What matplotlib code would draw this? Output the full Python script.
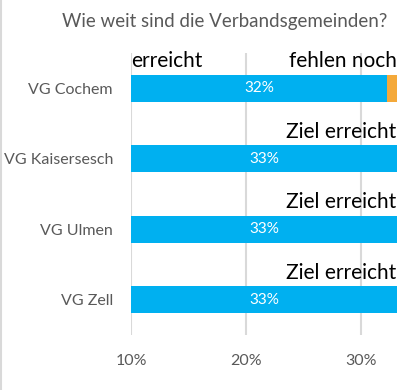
import matplotlib
matplotlib.use("Agg")
import matplotlib.pyplot as plt

# data
regions = ["VG Cochem", "VG Kaisersesch", "VG Ulmen", "VG Zell"]
reached = [32.2, 33.1, 33.1, 33.1]
missing = [0.9, 0.0, 0.0, 0.0]
reached_labels = ["32%", "33%", "33%", "33%"]
status_labels = ["fehlen noch", "Ziel erreicht", "Ziel erreicht", "Ziel erreicht"]
ticks = [10, 20, 30]
tick_labels = ["10%", "20%", "30%"]
x_start = 10
target = 33.1

plt.rcParams["font.family"] = ["Lato", "DejaVu Sans"]
BLUE = "#00B0F0"
ORANGE = "#F4A93A"
GRAY = "#595959"

fig = plt.figure(figsize=(4.09, 3.90), dpi=100)
ax = fig.add_axes([131 / 409, 1 - 335 / 390, (397 - 131) / 409, (335 - 53) / 390])

ypos = list(range(len(regions)))
ax.barh(ypos, [r - x_start for r in reached], left=x_start, height=0.38, color=BLUE, zorder=2)
ax.barh(ypos, missing, left=reached, height=0.38, color=ORANGE, zorder=2)

for y, r, lab in zip(ypos, reached, reached_labels):
    ax.text((x_start + r) / 2, y, lab, color="white", fontsize=11, ha="center", va="center", zorder=3)

for y, lab in zip(ypos, status_labels):
    ax.text(target - 0.05, y - 0.24, lab, color="black", fontsize=15, ha="right", va="bottom", zorder=3)
ax.text(x_start, -0.24, "erreicht", color="black", fontsize=15, ha="left", va="bottom", zorder=3)

ax.set_xlim(x_start, target)
ax.set_ylim(len(regions) - 0.5, -0.5)
ax.set_xticks(ticks)
ax.set_xticklabels(tick_labels)
ax.set_yticks(ypos)
ax.set_yticklabels(regions)
ax.tick_params(axis="both", length=0, colors=GRAY, labelsize=11.5)
ax.tick_params(axis="x", pad=14)
ax.tick_params(axis="y", pad=13)
ax.grid(axis="x", color="#D9D9D9", linewidth=1.5, zorder=0)
for s in ax.spines.values():
    s.set_visible(False)

fig.text(225 / 409, 1 - 22 / 390, "Wie weit sind die Verbandsgemeinden?", color=GRAY,
         fontsize=13.5, ha="center", va="center")
fig.add_artist(plt.Line2D([1 / 409, 1 / 409], [0, 1], color="#D9D9D9", linewidth=1.5))

fig.savefig("out.png", dpi=100)
plt.close(fig)
